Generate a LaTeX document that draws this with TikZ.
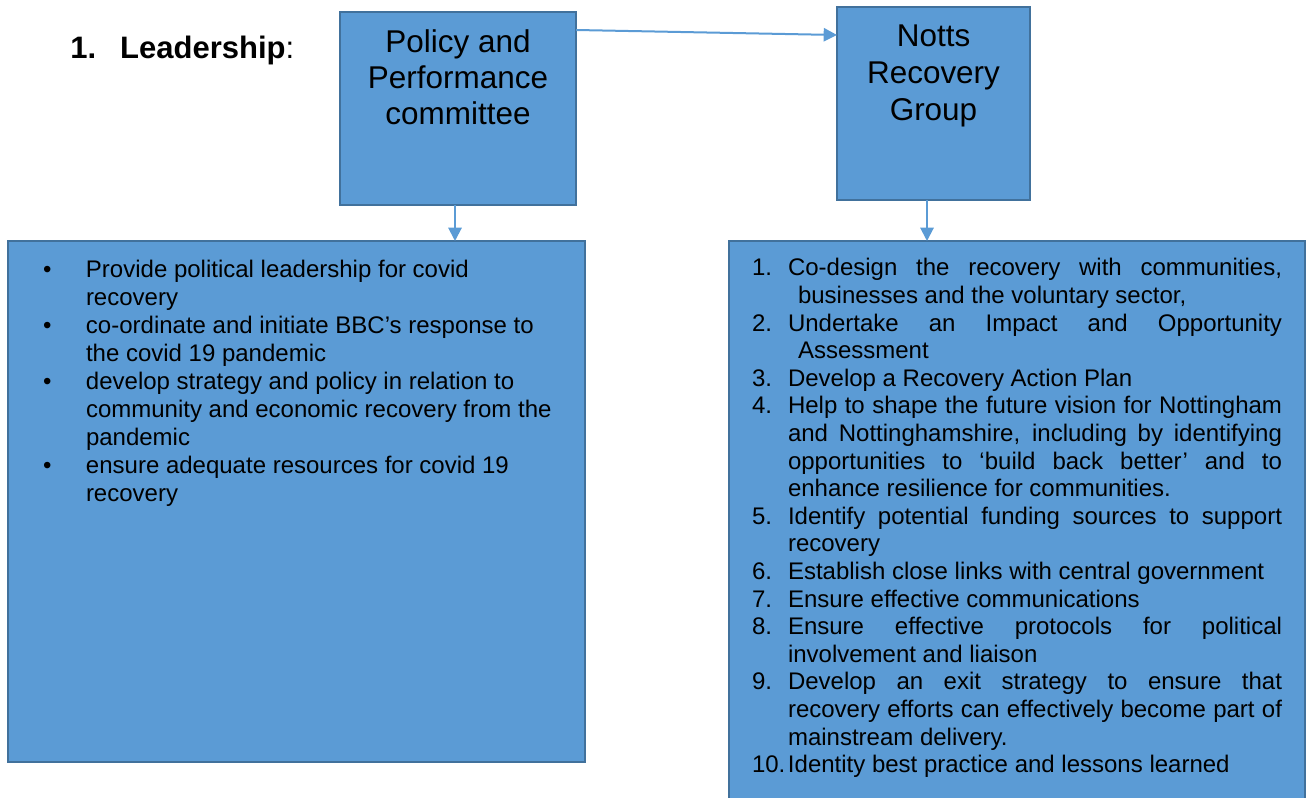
\documentclass[tikz,border=0pt]{standalone}
\usepackage{fontspec}
\setmainfont{Liberation Sans}
\usetikzlibrary{arrows.meta,calc}
\definecolor{boxfill}{HTML}{5B9BD5}
\definecolor{boxline}{HTML}{41719C}
\definecolor{arrowc}{HTML}{5B9BD5}
\newcommand{\ritem}[3]{\hangindent=#1\hangafter=1\noindent\makebox[27pt][l]{#2}#3\par}
\newcommand{\litem}[1]{\hangindent=32.25pt\hangafter=1\noindent\makebox[32.25pt][l]{•}#1\par}
\begin{document}
\begin{tikzpicture}[x=0.75pt,y=-0.75pt,
  box/.style={rectangle, draw=boxline, fill=boxfill, line width=1.2pt, inner sep=0pt, outer sep=0pt},
  arr/.style={draw=arrowc, line width=1.5pt, -{Triangle[length=10pt,width=10pt]}},
  listtext/.style={anchor=north west, inner sep=0pt, outer sep=0pt}]
\clip (0,0) rectangle (1309,798);

% heading
\node[anchor=base west, inner sep=0pt] (head) at (70,59)
  {\fontsize{23.25pt}{27pt}\selectfont\makebox[37.5pt][l]{\textbf{1.}}\textbf{Leadership}:};

% top boxes
\node[box, minimum width=177pt, minimum height=144.75pt] (pp) at (458,108.5)
  {\parbox[c][144.75pt][t]{177pt}{\fontsize{23.6pt}{27pt}\selectfont\centering
   \rule{0pt}{30.75pt}Policy and\\Performance\\committee}};
\node[box, minimum width=144.75pt, minimum height=144.75pt] (notts) at (933.5,103.5)
  {\parbox[c][144.75pt][t]{144.75pt}{\fontsize{23.6pt}{27.5pt}\selectfont\centering
   \rule{0pt}{30pt}Notts\\Recovery\\Group}};

% bottom boxes
\node[box, minimum width=432.75pt, minimum height=390.75pt] (left) at (296.5,501.5) {};
\node[box, minimum width=432pt, minimum height=423pt] (right) at (1017,523) {};

% left list
\node[listtext] (leftlist) at (43,258) {\parbox[t]{390pt}{%
\fontsize{18pt}{21pt}\selectfont\rightskip=0pt plus 1fil\relax
\litem{\rule{0pt}{15pt}Provide political leadership for covid\newline recovery}
\litem{co-ordinate and initiate BBC’s response to\newline the covid 19 pandemic}
\litem{develop strategy and policy in relation to\newline community and economic recovery from the\newline pandemic}
\litem{ensure adequate resources for covid 19\newline recovery}}};

% right list
\node[listtext] (rightlist) at (752,256) {\parbox[t]{397.5pt}{%
\fontsize{18pt}{20.7pt}\selectfont
\ritem{34.5pt}{1.}{\rule{0pt}{15pt}Co-design the recovery with communities,\linebreak businesses and the voluntary sector,}
\ritem{34.5pt}{2.}{Undertake an Impact and Opportunity\linebreak Assessment}
\ritem{27pt}{3.}{Develop a Recovery Action Plan}
\ritem{27pt}{4.}{Help to shape the future vision for Nottingham\linebreak and Nottinghamshire, including by identifying\linebreak opportunities to ‘build back better’ and to\linebreak enhance resilience for communities.}
\ritem{27pt}{5.}{Identify potential funding sources to support\linebreak recovery}
\ritem{27pt}{6.}{Establish close links with central government}
\ritem{27pt}{7.}{Ensure effective communications}
\ritem{27pt}{8.}{Ensure effective protocols for political\linebreak involvement and liaison}
\ritem{27pt}{9.}{Develop an exit strategy to ensure that\linebreak recovery efforts can effectively become part of\linebreak mainstream delivery.}
\ritem{27pt}{10.}{Identity best practice and lessons learned}}};

% connectors
\coordinate (a1) at ($(pp.north east)+(0,18)$);
\coordinate (a2) at ($(notts.north west)+(0,28)$);
\draw[arr] (a1) -- (a2);
\coordinate (d1) at ($(pp.south)+(-3,0)$);
\draw[arr] (d1) -- (d1 |- left.north);
\coordinate (d2) at ($(notts.south)+(-6.5,0)$);
\draw[arr] (d2) -- (d2 |- right.north);
\end{tikzpicture}
\end{document}
